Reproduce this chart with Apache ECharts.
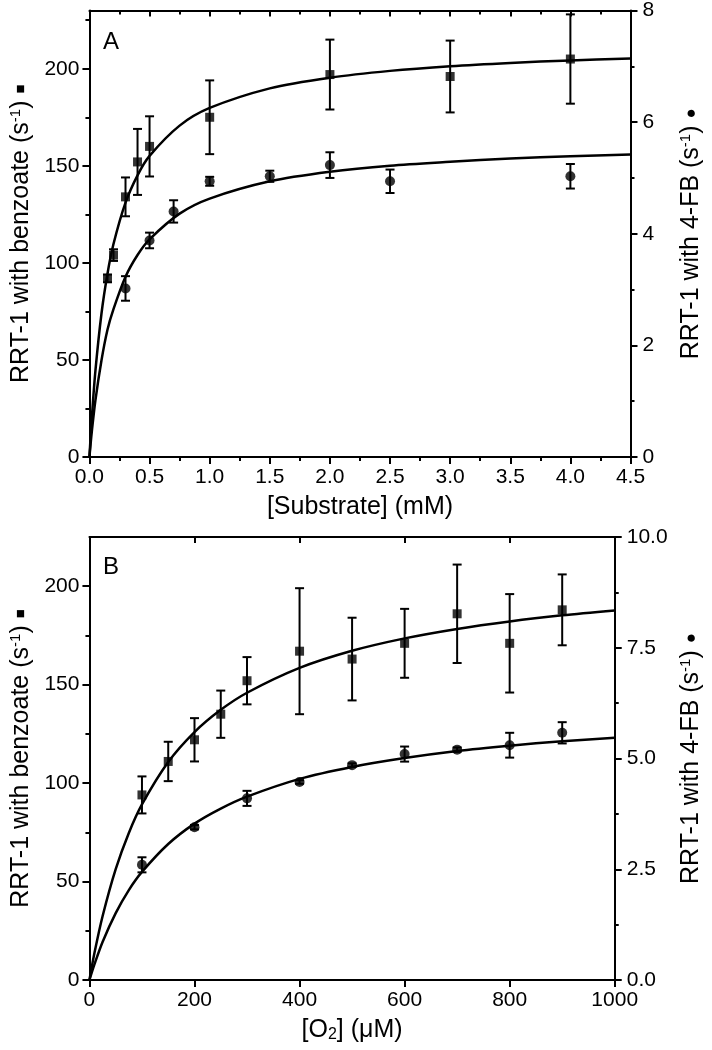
<!DOCTYPE html>
<html><head><meta charset="utf-8">
<script src="https://cdn.jsdelivr.net/npm/echarts@6/dist/echarts.min.js"></script>
<style>html,body{margin:0;padding:0;background:#fff}#c{width:712px;height:1050px}</style>
</head><body><div id="c"></div>
<script>
// ---------- Panel A data ([Substrate] mM) ----------
const aSqX   = [0.15, 0.2, 0.3, 0.4, 0.5, 1.0, 2.0, 3.0, 4.0];
const aSqY   = [92, 104, 134, 152, 160, 175, 197, 196, 205];
const aSqErr = [2, 3, 10, 17, 15.5, 19, 18, 18.5, 23];
const aCiX   = [0.3, 0.5, 0.7, 1.0, 1.5, 2.0, 2.5, 4.0];
const aCiY   = [3.02, 3.88, 4.40, 4.94, 5.03, 5.23, 4.94, 5.03];
const aCiErr = [0.22, 0.14, 0.2, 0.08, 0.1, 0.23, 0.21, 0.22];
const aFitX   = [0, 0.01, 0.02, 0.05, 0.1, 0.15, 0.2, 0.3, 0.4, 0.5, 0.75, 1.0, 1.5, 2.0, 2.5, 3.0, 3.5, 4.0, 4.5];
const aFitSq  = [0, 10.7, 20.4, 44.6, 73.8, 94.4, 109.7, 131, 145.1, 155.1, 170.7, 179.8, 189.9, 195.4, 198.9, 201.3, 203, 204.3, 205.3];
const aFitCi  = [0, 0.24, 0.46, 1.02, 1.73, 2.28, 2.65, 3.23, 3.62, 3.9, 4.36, 4.63, 4.94, 5.11, 5.22, 5.29, 5.35, 5.39, 5.42];
const aXTicks = [0, 0.5, 1.0, 1.5, 2.0, 2.5, 3.0, 3.5, 4.0, 4.5];
const aXMinor = [0.25, 0.75, 1.25, 1.75, 2.25, 2.75, 3.25, 3.75, 4.25];
const aLTicks = [0, 50, 100, 150, 200];
const aLMinor = [25, 75, 125, 175, 225];
const aRTicks = [0, 2, 4, 6, 8];
const aRMinor = [1, 3, 5, 7];

// ---------- Panel B data ([O2] uM) ----------
const bSqX   = [100, 150, 200, 250, 300, 400, 500, 600, 700, 800, 900];
const bSqY   = [94, 111, 122, 135, 152, 167, 163, 171, 186, 171, 188];
const bSqErr = [9.4, 10, 11, 12, 12, 32, 21, 17.5, 25, 25, 18];
const bCiX   = [100, 200, 300, 400, 500, 600, 700, 800, 900];
const bCiY   = [2.6, 3.45, 4.1, 4.47, 4.85, 5.1, 5.2, 5.3, 5.58];
const bCiErr = [0.17, 0.05, 0.17, 0.04, 0.04, 0.17, 0.05, 0.28, 0.24];
const bFitX   = [0, 10, 25, 50, 75, 100, 150, 200, 250, 300, 400, 500, 600, 700, 800, 900, 1000];
const bFitSq  = [0, 14.3, 32.4, 56.3, 74.7, 89.2, 110.7, 125.9, 137.2, 145.9, 158.5, 167.2, 173.5, 178.3, 182.1, 185.2, 187.7];
const bFitCi  = [0, 0.37, 0.86, 1.51, 2.03, 2.44, 3.07, 3.53, 3.87, 4.14, 4.54, 4.81, 5.01, 5.17, 5.29, 5.39, 5.47];
const bXTicks = [0, 200, 400, 600, 800, 1000];
const bLTicks = [0, 50, 100, 150, 200];
const bLMinor = [25, 75, 125, 175];
const bRTicks = [0, 2.5, 5.0, 7.5, 10.0];
const bRMinor = [1.25, 3.75, 6.25, 8.75];

const FONT = "'Liberation Sans', Arial, sans-serif";
const BLACK = '#000';
const TICK_FS = 21, TITLE_FS = 25;
const chart = echarts.init(document.getElementById('c'), null, {renderer: 'canvas'});

function zip(xs, ys) { return xs.map((x, i) => [x, ys[i]]); }
function errData(xs, ys, es) { return xs.map((x, i) => [x, ys[i] - es[i], ys[i] + es[i]]); }

function errRender(params, api) {
  const x = api.value(0), lo = api.value(1), hi = api.value(2);
  const p1 = api.coord([x, hi]), p2 = api.coord([x, lo]);
  const w = 4.5;
  const st = {stroke: BLACK, lineWidth: 2};
  return {type: 'group', children: [
    {type: 'line', shape: {x1: p1[0], y1: p1[1], x2: p2[0], y2: p2[1]}, style: st},
    {type: 'line', shape: {x1: p1[0] - w, y1: p1[1], x2: p1[0] + w, y2: p1[1]}, style: st},
    {type: 'line', shape: {x1: p2[0] - w, y1: p2[1], x2: p2[0] + w, y2: p2[1]}, style: st}
  ]};
}

const lineS = {color: BLACK, width: 2};
const richName = {
  t:   {fontFamily: FONT, fontSize: TITLE_FS, color: BLACK},
  sup: {fontFamily: FONT, fontSize: 15, color: BLACK, verticalAlign: 'top', padding: [0, 0, 11, 0]},
  sq:  {fontFamily: FONT, fontSize: 15, color: BLACK},
  ci:  {fontFamily: FONT, fontSize: 17, color: BLACK}
};

function xAxes(grid, min, max, ticks, minor, decimals, name, gap, withTopMinor) {
  const arr = [];
  arr.push({
    type: 'value', gridIndex: grid, position: 'bottom', min: min, max: max,
    axisLine: {show: true, onZero: false, lineStyle: lineS},
    axisTick: {show: true, inside: false, length: 7, lineStyle: lineS, customValues: ticks},
    axisLabel: {show: true, customValues: ticks, margin: 10, fontFamily: FONT, fontSize: TICK_FS, color: BLACK,
      formatter: v => Number(v).toFixed(decimals)},
    splitLine: {show: false},
    name: name, nameLocation: 'middle', nameGap: gap,
    nameTextStyle: {rich: {
      t: {fontFamily: FONT, fontSize: TITLE_FS, color: BLACK},
      sub: {fontFamily: FONT, fontSize: 16, color: BLACK, verticalAlign: 'bottom', padding: [9, 0, 0, 0]}
    }}
  });
  if (minor) arr.push({
    type: 'value', gridIndex: grid, position: 'bottom', min: min, max: max,
    axisLine: {show: false, onZero: false},
    axisTick: {show: true, inside: false, length: 4, lineStyle: lineS, customValues: minor},
    axisLabel: {show: false}, splitLine: {show: false}
  });
  arr.push({
    type: 'value', gridIndex: grid, position: 'top', min: min, max: max,
    axisLine: {show: true, onZero: false, lineStyle: lineS},
    axisTick: {show: true, inside: true, length: 6, lineStyle: lineS, customValues: ticks.filter(v => v !== min && v !== max)},
    axisLabel: {show: false}, splitLine: {show: false}
  });
  if (minor && withTopMinor) arr.push({
    type: 'value', gridIndex: grid, position: 'top', min: min, max: max,
    axisLine: {show: false, onZero: false},
    axisTick: {show: true, inside: true, length: 4, lineStyle: lineS, customValues: minor},
    axisLabel: {show: false}, splitLine: {show: false}
  });
  return arr;
}

function yAxes(grid, pos, max, ticks, minor, decimals, name, gap, margin) {
  return [{
    type: 'value', gridIndex: grid, position: pos, min: 0, max: max,
    axisLine: {show: true, onZero: false, lineStyle: lineS},
    axisTick: {show: true, inside: false, length: 7, lineStyle: lineS, customValues: ticks},
    axisLabel: {show: true, customValues: ticks, margin: margin, fontFamily: FONT, fontSize: TICK_FS, color: BLACK,
      formatter: v => Number(v).toFixed(decimals)},
    splitLine: {show: false},
    name: name, nameLocation: 'middle', nameGap: gap, nameRotate: 90,
    nameTextStyle: {rich: richName}
  }, {
    type: 'value', gridIndex: grid, position: pos, min: 0, max: max,
    axisLine: {show: false, onZero: false},
    axisTick: {show: true, inside: false, length: 4, lineStyle: lineS, customValues: minor},
    axisLabel: {show: false}, splitLine: {show: false}
  }];
}

const xAx = [].concat(
  xAxes(0, 0, 4.5, aXTicks, aXMinor, 1, '{t|[Substrate] (mM)}', 38, true),   // indices 0..3
  xAxes(1, 0, 1000, bXTicks, null, 0, '{t|[O}{sub|2}{t|] (\u03BCM)}', 38, false) // indices 4..5
);
const yAx = [].concat(
  yAxes(0, 'left', 230, aLTicks, aLMinor, 0, '{t|RRT-1 with benzoate (s}{sup|-1}{t|) }{sq|\u25A0}', 50, 10),   // 0,1
  yAxes(0, 'right', 8, aRTicks, aRMinor, 0, '{t|RRT-1 with 4-FB (s}{sup|-1}{t|) }{ci|\u25CF}', 48, 12),          // 2,3
  yAxes(1, 'left', 225, bLTicks, bLMinor, 0, '{t|RRT-1 with benzoate (s}{sup|-1}{t|) }{sq|\u25A0}', 50, 10),   // 4,5
  yAxes(1, 'right', 10, bRTicks, bRMinor, 1, '{t|RRT-1 with 4-FB (s}{sup|-1}{t|) }{ci|\u25CF}', 48, 12)          // 6,7
);

function panelSeries(xi, yl, yr, sqX, sqY, sqE, ciX, ciY, ciE, fitX, fitSq, fitCi) {
  return [
    {type: 'custom', xAxisIndex: xi, yAxisIndex: yl, renderItem: errRender, encode: {x: 0, y: [1, 2]},
      data: errData(sqX, sqY, sqE), z: 3, silent: true},
    {type: 'custom', xAxisIndex: xi, yAxisIndex: yr, renderItem: errRender, encode: {x: 0, y: [1, 2]},
      data: errData(ciX, ciY, ciE), z: 3, silent: true},
    {type: 'line', xAxisIndex: xi, yAxisIndex: yl, data: zip(fitX, fitSq), smooth: 0.3, showSymbol: false,
      lineStyle: {color: BLACK, width: 2.5}, z: 4, silent: true, animation: false},
    {type: 'line', xAxisIndex: xi, yAxisIndex: yr, data: zip(fitX, fitCi), smooth: 0.3, showSymbol: false,
      lineStyle: {color: BLACK, width: 2.5}, z: 4, silent: true, animation: false},
    {type: 'scatter', xAxisIndex: xi, yAxisIndex: yl, data: zip(sqX, sqY), symbol: 'rect', symbolSize: 9,
      itemStyle: {color: BLACK}, z: 5, silent: true},
    {type: 'scatter', xAxisIndex: xi, yAxisIndex: yr, data: zip(ciX, ciY), symbol: 'circle', symbolSize: 10,
      itemStyle: {color: BLACK}, z: 5, silent: true}
  ];
}

chart.setOption({
  animation: false,
  backgroundColor: '#fff',
  grid: [
    {left: 78, top: 10, width: 554, height: 447, containLabel: false},
    {left: 78, top: 537, width: 554, height: 443, containLabel: false}
  ],
  xAxis: xAx,
  yAxis: yAx,
  graphic: [
    {type: 'text', left: 103, top: 30, style: {text: 'A', font: "24px 'Liberation Sans', Arial", fill: BLACK}},
    {type: 'text', left: 103, top: 555, style: {text: 'B', font: "24px 'Liberation Sans', Arial", fill: BLACK}}
  ],
  series: [].concat(
    panelSeries(0, 0, 2, aSqX, aSqY, aSqErr, aCiX, aCiY, aCiErr, aFitX, aFitSq, aFitCi),
    panelSeries(4, 4, 6, bSqX, bSqY, bSqErr, bCiX, bCiY, bCiErr, bFitX, bFitSq, bFitCi)
  )
});
</script></body></html>
